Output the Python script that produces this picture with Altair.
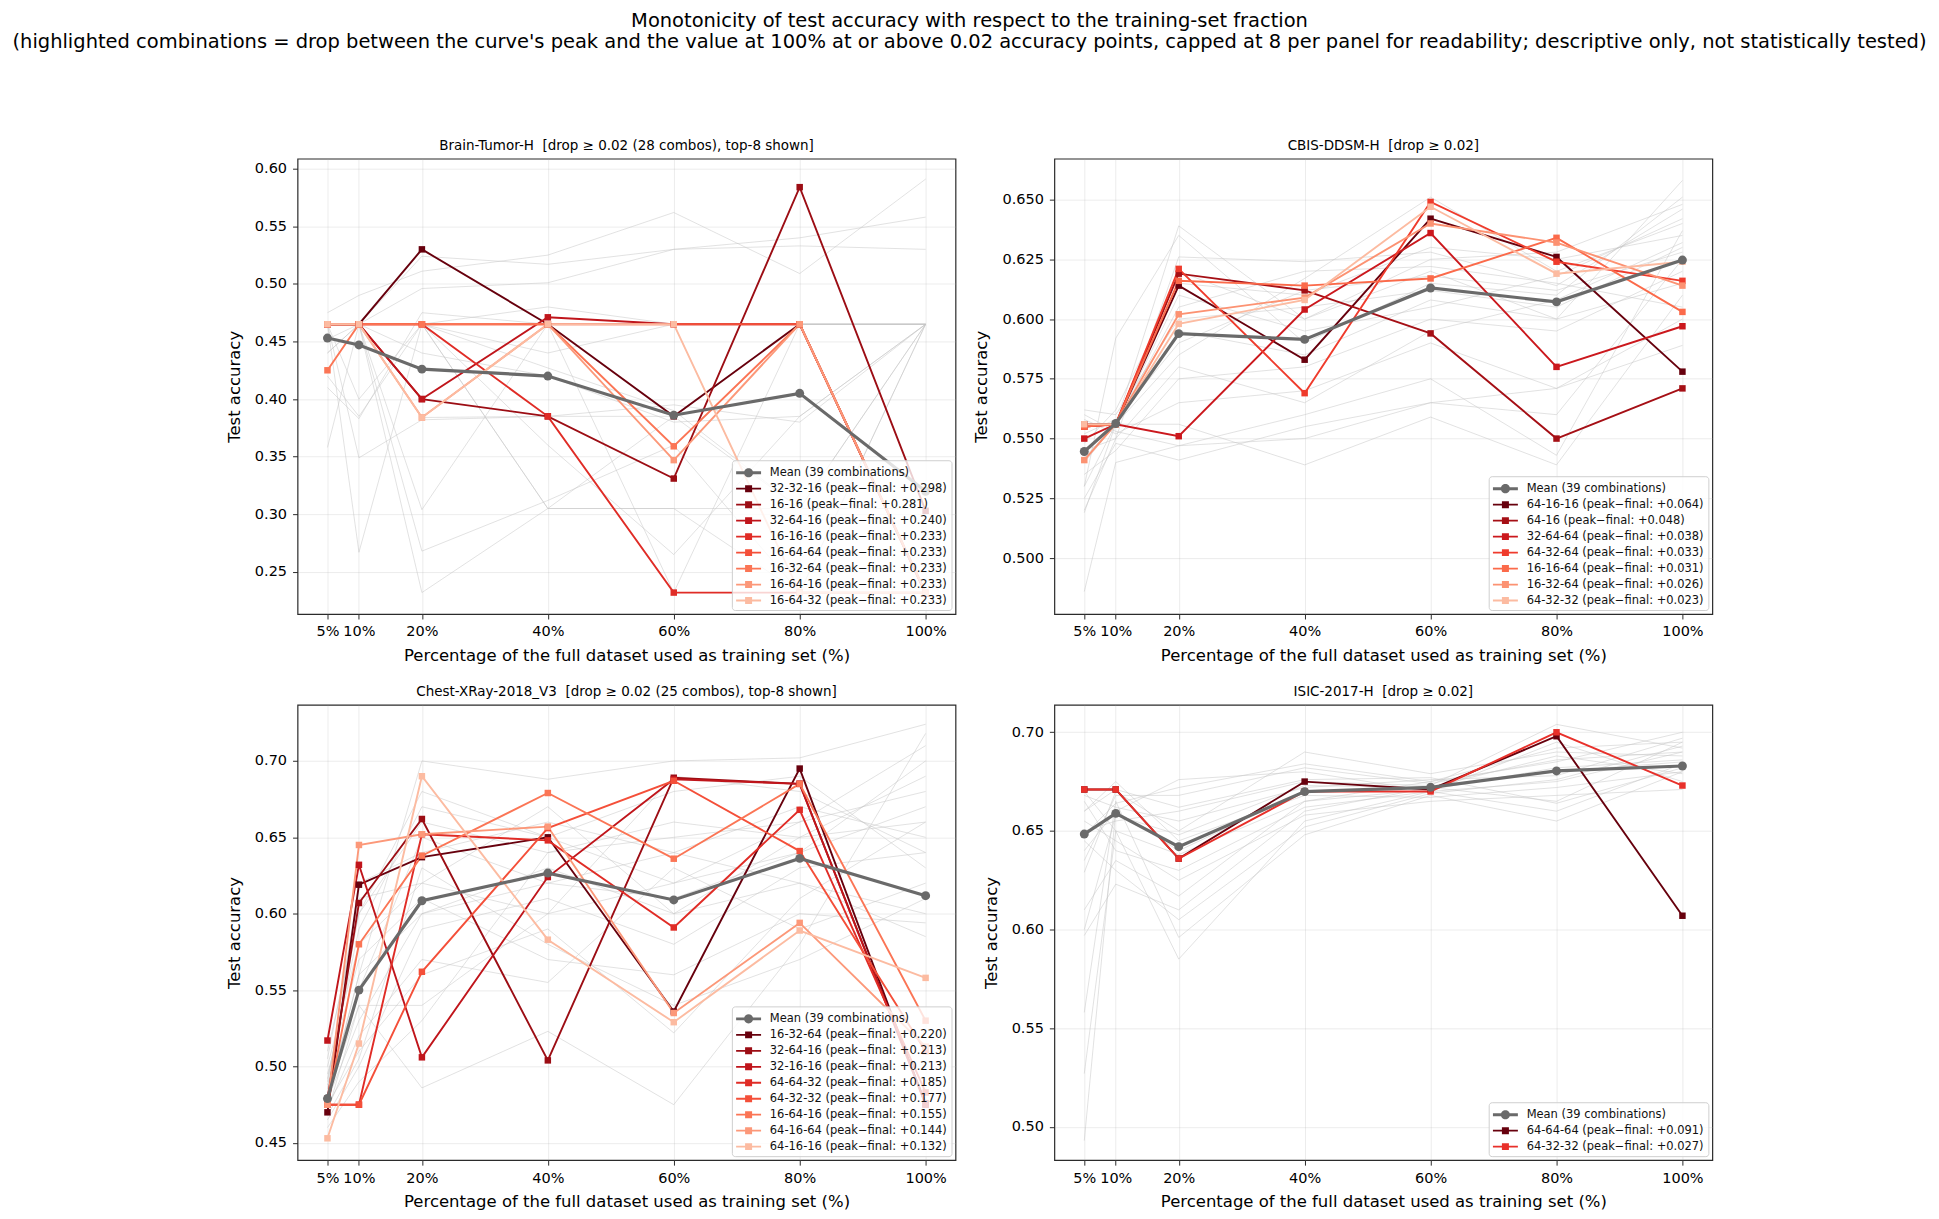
import altair as alt
import pandas as pd

FONT = "DejaVu Sans"
X_PCT = [5, 10, 20, 40, 60, 80, 100]
X_TITLE = "Percentage of the full dataset used as training set (%)"
Y_TITLE = "Test accuracy"
MEAN_LABEL = "Mean (39 combinations)"
MEAN_COLOR = "#6a6a6a"
SUPTITLE = [
    "Monotonicity of test accuracy with respect to the training-set fraction",
    "(highlighted combinations = drop between the curve's peak and the value at 100% at or above 0.02 accuracy points, capped at 8 per panel for readability; descriptive only, not statistically tested)",
]

REDS_8 = ["#67000d", "#9c0d14", "#c0151b", "#e02c26", "#f44f39", "#fb7555", "#fc9879", "#fcbba1"]
REDS_7 = ["#67000d", "#a50f15", "#cb181d", "#ef3b2c", "#fb6a4a", "#fc9272", "#fcbba1"]
REDS_2 = ["#67000d", "#e8302a"]

# ---------------- Brain-Tumor-H ----------------
BT_TITLE = "Brain-Tumor-H\u00a0 [drop \u2265 0.02 (28 combos), top-8 shown]"
BT_MEAN = [0.453, 0.447, 0.426, 0.420, 0.386, 0.405, 0.320]
BT_NAMES = ["32-32-16", "16-16", "32-64-16", "16-16-16", "16-64-64", "16-32-64", "16-64-16", "16-64-32"]
BT_DROPS = [0.298, 0.281, 0.240, 0.233, 0.233, 0.233, 0.233, 0.233]
BT_VALUES = [
    [0.465, 0.465, 0.530, 0.465, 0.385, 0.465, 0.232],
    [0.465, 0.465, 0.400, 0.385, 0.331, 0.584, 0.303],
    [0.465, 0.465, 0.400, 0.471, 0.465, 0.465, 0.231],
    [0.465, 0.465, 0.465, 0.385, 0.232, 0.232, 0.232],
    [0.465, 0.465, 0.465, 0.465, 0.465, 0.465, 0.232],
    [0.425, 0.465, 0.465, 0.465, 0.359, 0.465, 0.232],
    [0.465, 0.465, 0.384, 0.465, 0.347, 0.465, 0.232],
    [0.465, 0.465, 0.384, 0.465, 0.465, 0.232, 0.232],
]
BT_GRAY = [
    [0.465, 0.465, 0.465, 0.465, 0.465, 0.465, 0.465],
    [0.475, 0.490, 0.511, 0.525, 0.562, 0.509, 0.591],
    [0.452, 0.465, 0.524, 0.517, 0.530, 0.533, 0.530],
    [0.465, 0.465, 0.496, 0.501, 0.530, 0.540, 0.558],
    [0.410, 0.383, 0.475, 0.465, 0.465, 0.465, 0.465],
    [0.358, 0.465, 0.465, 0.305, 0.305, 0.305, 0.465],
    [0.465, 0.349, 0.382, 0.385, 0.395, 0.380, 0.465],
    [0.465, 0.267, 0.465, 0.427, 0.390, 0.305, 0.465],
    [0.440, 0.465, 0.304, 0.465, 0.385, 0.465, 0.465],
    [0.465, 0.465, 0.268, 0.312, 0.360, 0.232, 0.232],
    [0.420, 0.385, 0.465, 0.360, 0.265, 0.385, 0.465],
    [0.465, 0.465, 0.232, 0.305, 0.385, 0.305, 0.305],
    [0.465, 0.465, 0.440, 0.420, 0.380, 0.385, 0.465],
    [0.465, 0.400, 0.465, 0.465, 0.232, 0.465, 0.465],
    [0.465, 0.465, 0.465, 0.305, 0.305, 0.232, 0.465],
    [0.465, 0.465, 0.384, 0.385, 0.385, 0.465, 0.232],
    [0.465, 0.465, 0.465, 0.480, 0.465, 0.232, 0.465],
    [0.440, 0.465, 0.465, 0.440, 0.465, 0.465, 0.465],
]
BT_YDOM = [0.2134, 0.6087]
BT_YTICKS = [0.25, 0.30, 0.35, 0.40, 0.45, 0.50, 0.55, 0.60]

# ---------------- CBIS-DDSM-H ----------------
CB_TITLE = "CBIS-DDSM-H\u00a0 [drop \u2265 0.02]"
CB_MEAN = [0.5446, 0.5563, 0.5939, 0.5915, 0.6130, 0.6072, 0.6247]
CB_NAMES = ["64-16-16", "64-16", "32-64-64", "64-32-64", "16-16-64", "16-32-64", "64-32-32"]
CB_DROPS = [0.064, 0.048, 0.038, 0.033, 0.031, 0.026, 0.023]
CB_VALUES = [
    [0.556, 0.556, 0.614, 0.583, 0.642, 0.626, 0.578],
    [0.555, 0.556, 0.619, 0.612, 0.594, 0.550, 0.571],
    [0.550, 0.556, 0.551, 0.604, 0.636, 0.580, 0.597],
    [0.555, 0.556, 0.621, 0.569, 0.649, 0.624, 0.616],
    [0.555, 0.556, 0.616, 0.614, 0.617, 0.634, 0.603],
    [0.541, 0.556, 0.602, 0.609, 0.640, 0.632, 0.614],
    [0.556, 0.556, 0.598, 0.608, 0.647, 0.619, 0.624],
]
CB_GRAY = [
    [0.486, 0.540, 0.547, 0.550, 0.565, 0.571, 0.589],
    [0.519, 0.556, 0.639, 0.600, 0.620, 0.600, 0.658],
    [0.530, 0.592, 0.635, 0.590, 0.615, 0.610, 0.651],
    [0.545, 0.550, 0.626, 0.624, 0.628, 0.614, 0.646],
    [0.555, 0.556, 0.556, 0.539, 0.559, 0.539, 0.610],
    [0.560, 0.553, 0.547, 0.560, 0.575, 0.543, 0.637],
    [0.540, 0.556, 0.585, 0.617, 0.651, 0.620, 0.640],
    [0.525, 0.548, 0.541, 0.555, 0.565, 0.560, 0.625],
    [0.562, 0.560, 0.600, 0.605, 0.612, 0.605, 0.630],
    [0.550, 0.556, 0.610, 0.595, 0.605, 0.618, 0.642],
    [0.535, 0.545, 0.575, 0.580, 0.600, 0.595, 0.620],
    [0.548, 0.562, 0.615, 0.610, 0.630, 0.625, 0.635],
    [0.542, 0.556, 0.595, 0.585, 0.608, 0.600, 0.615],
    [0.558, 0.552, 0.565, 0.570, 0.590, 0.571, 0.600],
    [0.530, 0.556, 0.620, 0.600, 0.625, 0.628, 0.648],
    [0.552, 0.558, 0.590, 0.612, 0.618, 0.612, 0.628],
    [0.520, 0.550, 0.580, 0.565, 0.595, 0.608, 0.632],
    [0.545, 0.556, 0.605, 0.620, 0.622, 0.615, 0.605],
]
CB_YDOM = [0.4766, 0.6671]
CB_YTICKS = [0.500, 0.525, 0.550, 0.575, 0.600, 0.625, 0.650]

# ---------------- Chest-XRay-2018_V3 ----------------
CX_TITLE = "Chest-XRay-2018_V3\u00a0 [drop \u2265 0.02 (25 combos), top-8 shown]"
CX_MEAN = [0.479, 0.550, 0.6085, 0.6266, 0.609, 0.6362, 0.6118]
CX_NAMES = ["16-32-64", "32-64-16", "32-16-16", "64-64-32", "64-32-32", "16-64-16", "64-16-64", "64-16-16"]
CX_DROPS = [0.220, 0.213, 0.213, 0.185, 0.177, 0.155, 0.144, 0.132]
CX_VALUES = [
    [0.470, 0.619, 0.637, 0.650, 0.536, 0.695, 0.475],
    [0.479, 0.607, 0.662, 0.504, 0.689, 0.685, 0.476],
    [0.517, 0.632, 0.506, 0.624, 0.688, 0.685, 0.475],
    [0.475, 0.475, 0.652, 0.648, 0.591, 0.668, 0.483],
    [0.475, 0.475, 0.562, 0.656, 0.687, 0.641, 0.510],
    [0.475, 0.580, 0.638, 0.679, 0.636, 0.685, 0.530],
    [0.475, 0.645, 0.652, 0.657, 0.535, 0.594, 0.513],
    [0.453, 0.515, 0.690, 0.583, 0.529, 0.589, 0.558],
]
CX_GRAY = [
    [0.480, 0.560, 0.700, 0.688, 0.700, 0.702, 0.724],
    [0.470, 0.540, 0.486, 0.523, 0.475, 0.580, 0.718],
    [0.490, 0.600, 0.660, 0.640, 0.660, 0.650, 0.690],
    [0.500, 0.580, 0.620, 0.600, 0.620, 0.640, 0.670],
    [0.475, 0.510, 0.560, 0.590, 0.522, 0.610, 0.660],
    [0.485, 0.620, 0.640, 0.660, 0.640, 0.670, 0.650],
    [0.465, 0.500, 0.590, 0.610, 0.580, 0.630, 0.640],
    [0.510, 0.600, 0.680, 0.650, 0.680, 0.690, 0.630],
    [0.478, 0.530, 0.600, 0.630, 0.600, 0.620, 0.600],
    [0.495, 0.570, 0.610, 0.570, 0.560, 0.600, 0.594],
    [0.460, 0.490, 0.530, 0.640, 0.650, 0.660, 0.680],
    [0.488, 0.550, 0.650, 0.620, 0.610, 0.640, 0.700],
    [0.472, 0.520, 0.570, 0.555, 0.630, 0.590, 0.620],
    [0.505, 0.610, 0.620, 0.670, 0.600, 0.650, 0.660],
    [0.482, 0.540, 0.540, 0.600, 0.690, 0.680, 0.640],
    [0.468, 0.505, 0.630, 0.580, 0.540, 0.570, 0.610],
    [0.492, 0.590, 0.670, 0.650, 0.620, 0.660, 0.710],
    [0.478, 0.560, 0.600, 0.620, 0.640, 0.620, 0.585],
]
CX_YDOM = [0.4387, 0.7367]
CX_YTICKS = [0.45, 0.50, 0.55, 0.60, 0.65, 0.70]

# ---------------- ISIC-2017-H ----------------
IS_TITLE = "ISIC-2017-H\u00a0 [drop \u2265 0.02]"
IS_MEAN = [0.6484, 0.6589, 0.642, 0.6699, 0.6721, 0.6804, 0.6829]
IS_NAMES = ["64-64-64", "64-32-32"]
IS_DROPS = [0.091, 0.027]
IS_VALUES = [
    [0.671, 0.671, 0.636, 0.675, 0.671, 0.698, 0.607],
    [0.671, 0.671, 0.636, 0.670, 0.670, 0.700, 0.673],
]
IS_GRAY = [
    [0.493, 0.660, 0.640, 0.670, 0.672, 0.680, 0.685],
    [0.527, 0.650, 0.585, 0.655, 0.670, 0.675, 0.690],
    [0.558, 0.665, 0.596, 0.648, 0.668, 0.655, 0.680],
    [0.597, 0.623, 0.610, 0.660, 0.672, 0.665, 0.695],
    [0.610, 0.635, 0.617, 0.665, 0.675, 0.685, 0.700],
    [0.629, 0.670, 0.650, 0.690, 0.679, 0.690, 0.688],
    [0.640, 0.660, 0.676, 0.680, 0.670, 0.695, 0.675],
    [0.650, 0.655, 0.660, 0.675, 0.673, 0.704, 0.692],
    [0.660, 0.675, 0.645, 0.668, 0.667, 0.672, 0.680],
    [0.665, 0.640, 0.630, 0.662, 0.670, 0.660, 0.684],
    [0.668, 0.662, 0.655, 0.672, 0.676, 0.678, 0.697],
    [0.655, 0.645, 0.625, 0.658, 0.665, 0.668, 0.671],
    [0.635, 0.668, 0.668, 0.682, 0.674, 0.686, 0.690],
    [0.670, 0.650, 0.638, 0.665, 0.671, 0.682, 0.686],
    [0.645, 0.630, 0.605, 0.652, 0.669, 0.676, 0.693],
    [0.660, 0.671, 0.662, 0.676, 0.677, 0.664, 0.682],
    [0.600, 0.658, 0.648, 0.673, 0.672, 0.688, 0.679],
    [0.648, 0.664, 0.672, 0.684, 0.675, 0.692, 0.695],
]
IS_YDOM = [0.4831, 0.7139]
IS_YTICKS = [0.50, 0.55, 0.60, 0.65, 0.70]

# legend symbol shapes (line + marker), unit = sqrt(symbolSize)/2
SQ_PATH = ("M-1,-0.11L2.03,-0.11L2.03,0.11L-1,0.11Z "
           "M0.09,-0.42L0.94,-0.42L0.94,0.42L0.09,0.42Z")
MEAN_PATH = ("M-1,-0.18L2.03,-0.18L2.03,0.18L-1,0.18Z "
             "M-0.04,0A0.555,0.555 0 1,1 1.07,0A0.555,0.555 0 1,1 -0.04,0Z")

PANEL_W = 659
PANEL_H = 456


def panel(title, mean, names, drops, values, gray, ydom, yticks, yfmt, colors, yext):
    labels = [f"{n} (peak\u2212final: +{d:.3f})" for n, d in zip(names, drops)]
    domain = [MEAN_LABEL] + labels
    crange = [MEAN_COLOR] + colors
    srange = [MEAN_PATH] + [SQ_PATH] * len(labels)

    g_rows = [{"g": i, "x": x, "y": v} for i, line in enumerate(gray) for x, v in zip(X_PCT, line)]
    h_rows = [{"s": lab, "c": col, "x": x, "y": v}
              for lab, col, line in zip(labels, colors, values) for x, v in zip(X_PCT, line)]
    m_rows = [{"s": MEAN_LABEL, "x": x, "y": v} for x, v in zip(X_PCT, mean)]
    g_df = pd.DataFrame(g_rows)
    h_df = pd.DataFrame(h_rows)
    m_df = pd.DataFrame(m_rows)

    xenc = alt.X("x:Q",
                 scale=alt.Scale(domain=[0.25, 104.75], nice=False, zero=False),
                 axis=alt.Axis(values=X_PCT, labelExpr="datum.value + '%'", title=X_TITLE))
    yenc = alt.Y("y:Q",
                 scale=alt.Scale(domain=ydom, nice=False, zero=False),
                 axis=alt.Axis(values=yticks, format=yfmt, title=Y_TITLE,
                               minExtent=yext, maxExtent=yext))

    gray_layer = alt.Chart(g_df).mark_line(color="#c4c4c4", strokeWidth=0.9, opacity=0.55).encode(
        x=xenc, y=yenc, detail="g:N")
    hl_lines = alt.Chart(h_df).mark_line(strokeWidth=1.9).encode(
        x=xenc, y=yenc, detail="s:N", stroke=alt.Stroke("c:N", scale=None))
    hl_pts = alt.Chart(h_df).mark_square(size=42, opacity=1, filled=True).encode(
        x=xenc, y=yenc, fill=alt.Fill("c:N", scale=None))
    mean_line = alt.Chart(m_df).mark_line(color=MEAN_COLOR, strokeWidth=3.2).encode(x=xenc, y=yenc)
    mean_pts = alt.Chart(m_df).mark_circle(color=MEAN_COLOR, size=80, opacity=1).encode(x=xenc, y=yenc)

    leg_props = dict(orient="bottom-right", title=None, offset=4, padding=4, rowPadding=2,
                     labelFont=FONT, labelFontSize=11.5, labelColor="#111111", labelLimit=600,
                     labelOffset=17, symbolSize=272, symbolStrokeWidth=0, symbolOpacity=1,
                     fillColor="rgba(255,255,255,0.8)", strokeColor="#cfcfcf", cornerRadius=3)
    legend_layer = alt.Chart(m_df).transform_filter("false").mark_point(
        filled=True, opacity=1).encode(
        x=xenc, y=yenc,
        color=alt.Color("s:N", scale=alt.Scale(domain=domain, range=crange), sort=domain,
                        legend=alt.Legend(**leg_props)),
        shape=alt.Shape("s:N", scale=alt.Scale(domain=domain, range=srange), sort=domain,
                        legend=alt.Legend(**leg_props)))

    return alt.layer(gray_layer, hl_lines, hl_pts, mean_line, mean_pts, legend_layer).properties(
        width=PANEL_W, height=PANEL_H,
        title=alt.TitleParams(title, font=FONT, fontSize=13.5, fontWeight="normal",
                              color="#000000", offset=6, anchor="middle"))


tl = panel(BT_TITLE, BT_MEAN, BT_NAMES, BT_DROPS, BT_VALUES, BT_GRAY, BT_YDOM, BT_YTICKS, ".2f", REDS_8, 47)
tr = panel(CB_TITLE, CB_MEAN, CB_NAMES, CB_DROPS, CB_VALUES, CB_GRAY, CB_YDOM, CB_YTICKS, ".3f", REDS_7, 57)
bl = panel(CX_TITLE, CX_MEAN, CX_NAMES, CX_DROPS, CX_VALUES, CX_GRAY, CX_YDOM, CX_YTICKS, ".2f", REDS_8, 47)
br = panel(IS_TITLE, IS_MEAN, IS_NAMES, IS_DROPS, IS_VALUES, IS_GRAY, IS_YDOM, IS_YTICKS, ".2f", REDS_2, 47)

IND = dict(color="independent", shape="independent")
row1 = alt.hconcat(tl, tr, spacing=16).resolve_scale(**IND).resolve_legend(**IND)
row2 = alt.hconcat(bl, br, spacing=26).resolve_scale(**IND).resolve_legend(**IND)

chart = alt.vconcat(row1, row2, spacing=19).resolve_scale(**IND).resolve_legend(**IND).properties(
    title=alt.TitleParams(SUPTITLE, font=FONT, fontSize=19.5, fontWeight="normal", color="#000000",
                          anchor="middle", lineHeight=21, offset=86),
    padding={"left": 3, "top": 2, "right": 3, "bottom": 5},
).configure_view(
    stroke="#2b2b2b", strokeWidth=1.2
).configure_axis(
    labelFont=FONT, labelFontSize=14.5, labelColor="#000000", labelPadding=6,
    tickColor="#2b2b2b", tickSize=5, tickWidth=1,
    domain=False, grid=True, gridColor="#b0b0b0", gridOpacity=0.3, gridWidth=0.8,
    titleFont=FONT, titleFontSize=16.5, titleFontWeight="normal", titleColor="#000000",
    titlePadding=8,
).configure_axisX(titlePadding=9)

chart.save("out.html", embed_options={"renderer": "svg", "actions": False})
